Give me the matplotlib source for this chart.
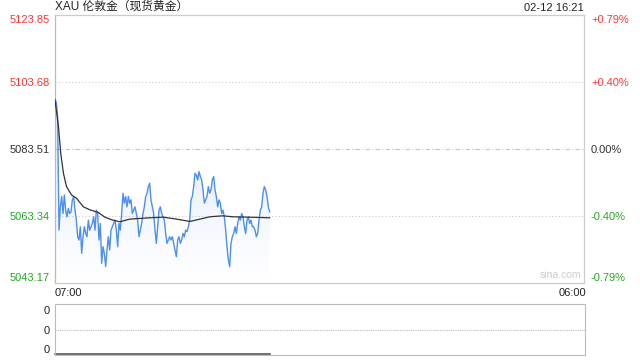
import numpy as np
import matplotlib
matplotlib.use("Agg")
import matplotlib.pyplot as plt
from matplotlib.colors import LinearSegmentedColormap

plt.rcParams['font.family'] = ['Liberation Sans', 'Noto Sans CJK SC', 'DejaVu Sans']

# ---------------- data ----------------
title = "XAU 伦敦金（现货黄金）"
stamp = "02-12 16:21"
prev_close = 5083.51
price_ticks = [5123.85, 5103.68, 5083.51, 5063.34, 5043.17]
price_tick_labels = ["5123.85", "5103.68", "5083.51", "5063.34", "5043.17"]
pct_tick_labels = ["+0.79%", "+0.40%", "0.00%", "-0.40%", "-0.79%"]
x_tick_labels = ["07:00", "06:00"]
session_minutes = 1380          # 07:00 -> 06:00 next day
last_minute = 560               # 16:20

price = [
    5098.5, 5097.5, 5093.0, 5059.1, 5066.1, 5069.2, 5064.1, 5069.7, 5065.1, 5063.1,
    5065.6, 5064.1, 5064.6, 5068.2, 5069.2, 5065.1, 5062.1, 5057.1, 5056.1, 5060.1,
    5052.1, 5057.1, 5060.1, 5058.1, 5057.1, 5062.1, 5059.1, 5060.1, 5061.1, 5063.1,
    5059.1, 5065.1, 5064.1, 5056.1, 5061.1, 5049.1, 5054.1, 5052.1, 5048.1, 5053.1,
    5057.1, 5053.1, 5059.1, 5060.1, 5061.1, 5062.1, 5059.1, 5054.1, 5061.1, 5059.1,
    5064.1, 5070.2, 5067.2, 5069.2, 5066.1, 5069.2, 5067.2, 5068.2, 5064.1, 5065.1,
    5066.1, 5064.1, 5062.1, 5057.1, 5059.1, 5061.1, 5064.1, 5066.1, 5069.2, 5070.2,
    5072.2, 5073.2, 5068.2, 5066.1, 5064.1, 5059.1, 5055.1, 5060.1, 5065.1, 5066.1,
    5064.1, 5063.1, 5062.1, 5058.1, 5055.1, 5056.1, 5057.1, 5056.1, 5057.1, 5055.1,
    5053.1, 5051.1, 5056.1, 5057.1, 5055.1, 5056.1, 5058.1, 5057.1, 5059.1, 5058.6,
    5060.1, 5062.1, 5068.2, 5069.2, 5072.2, 5076.2, 5075.7, 5074.2, 5076.7, 5075.2,
    5074.2, 5071.2, 5067.2, 5068.2, 5069.2, 5072.2, 5070.2, 5071.2, 5074.2, 5075.2,
    5071.2, 5069.2, 5066.1, 5068.2, 5067.2, 5064.1, 5065.1, 5063.1, 5059.1, 5054.1,
    5050.1, 5048.1, 5055.1, 5057.1, 5058.1, 5060.1, 5058.1, 5061.1, 5063.1, 5062.1,
    5064.1, 5063.1, 5060.1, 5058.1, 5062.1, 5063.1, 5061.1, 5062.1, 5060.1, 5060.1,
    5059.1, 5057.1, 5058.1, 5062.1, 5065.1, 5066.1, 5070.2, 5072.2, 5071.2, 5069.2,
    5066.1, 5064.6,
]

avg_minutes = [0, 9, 15, 22, 30, 43, 56, 74, 91, 113, 130, 148, 169, 195, 221,
               247, 282, 317, 352, 378, 404, 438, 464, 499, 534, 560]
avg_price = [5098.3, 5090.3, 5082.2, 5076.2, 5072.2, 5069.7, 5068.7, 5066.1, 5065.2,
             5064.4, 5063.0, 5062.2, 5061.6, 5062.4, 5062.6, 5062.8, 5063.0, 5062.4,
             5061.7, 5062.4, 5063.1, 5063.4, 5063.1, 5063.0, 5062.9, 5062.8]

vol_tick_labels = ["0", "0", "0"]

# ---------------- figure ----------------
W, H = 640, 360
fig = plt.figure(figsize=(W / 100, H / 100), dpi=100)

def fx(px):
    return px / W

def fy(py):
    return 1 - py / H

L, R = 55, 584
ax = fig.add_axes([fx(L), fy(283), fx(R - L), (283 - 15) / H])
ax.set_xlim(0, session_minutes)
ymin, ymax = price_ticks[-1], price_ticks[0]
ax.set_ylim(ymin, ymax)

minutes = np.linspace(0, last_minute, len(price))
pr = np.array(price)

# gradient fill under the price line
poly = ax.fill_between(minutes, pr, ymin, color='none', lw=0)
cmap = LinearSegmentedColormap.from_list(
    "g", [(0.36, 0.56, 0.94, 0.0), (0.36, 0.56, 0.94, 0.2)])
grad = np.linspace(0, 1, 256).reshape(-1, 1)
img = ax.imshow(grad, extent=[0, last_minute, ymin, pr.max()], origin='lower',
                aspect='auto', cmap=cmap, zorder=1)
img.set_clip_path(poly.get_paths()[0], transform=ax.transData)

ax.plot(minutes, pr, color='#4d8ff0', lw=1.0, zorder=3)
ax.plot(avg_minutes, avg_price, color='#333333', lw=0.9, zorder=4)

# grid lines
for v in price_ticks[1:-1]:
    if v == prev_close:
        ax.axhline(v, color='#c4c4c4', lw=0.8, ls=(0, (4, 2, 1, 2)), zorder=0)
    else:
        ax.axhline(v, color='#cccccc', lw=0.8, ls=(0, (1, 2)), zorder=0)

for s in ax.spines.values():
    s.set_color('#cccccc')
    s.set_linewidth(0.9)
ax.spines['left'].set_color('#bbbbbb')

colors = ['#ff3333', '#ff3333', '#333333', '#22aa22', '#22aa22']

ax.set_xticks([])
ax.set_yticks(price_ticks)
ax.set_yticklabels(price_tick_labels)
ax.tick_params(axis='y', length=0, pad=4, labelsize=8)
for lab, c in zip(ax.get_yticklabels(), colors):
    lab.set_color(c)
ax.get_yticklabels()[0].set_va('top')
ax.get_yticklabels()[-1].set_va('bottom')

ax2 = ax.twinx()
ax2.set_ylim(ymin, ymax)
ax2.set_yticks(price_ticks)
ax2.set_yticklabels(pct_tick_labels)
ax2.tick_params(axis='y', length=0, pad=5, labelsize=8)
for lab, c in zip(ax2.get_yticklabels(), colors):
    lab.set_color(c)
ax2.get_yticklabels()[0].set_va('top')
ax2.get_yticklabels()[-1].set_va('bottom')
for s in ax2.spines.values():
    s.set_visible(False)

# watermark
ax.text(0.955, 0.012, "sina.com", transform=ax.transAxes, ha='center', va='bottom',
        color='#cccccc', fontsize=7.5)

# title and stamp
fig.text(fx(55), fy(7), title, ha='left', va='center', fontsize=8.5, color='#222222')
fig.text(fx(584), fy(8), stamp, ha='right', va='center', fontsize=8, color='#222222')

# time labels
fig.text(fx(55), fy(293), x_tick_labels[0], ha='left', va='center', fontsize=8, color='#222222')
fig.text(fx(586), fy(293), x_tick_labels[1], ha='right', va='center', fontsize=8, color='#222222')

# volume panel
axv = fig.add_axes([fx(L), fy(355), fx(R - L + 1), (355 - 304) / H])
axv.set_xlim(0, session_minutes)
axv.set_ylim(0, 1)
axv.plot([0, last_minute], [0.01, 0.01], color='#555555', lw=1.2, clip_on=False)
axv.axhline(0.5, color='#bbbbbb', lw=0.8, ls=(0, (1, 1)))
for s in axv.spines.values():
    s.set_color('#bbbbbb')
    s.set_linestyle((0, (1, 1)))
    s.set_linewidth(0.8)
axv.set_xticks([])
axv.set_yticks([0.88, 0.5, 0.12])
axv.set_yticklabels(vol_tick_labels)
axv.tick_params(axis='y', length=0, pad=4, labelsize=8, labelcolor='#222222')

fig.savefig("out.png", dpi=100)
